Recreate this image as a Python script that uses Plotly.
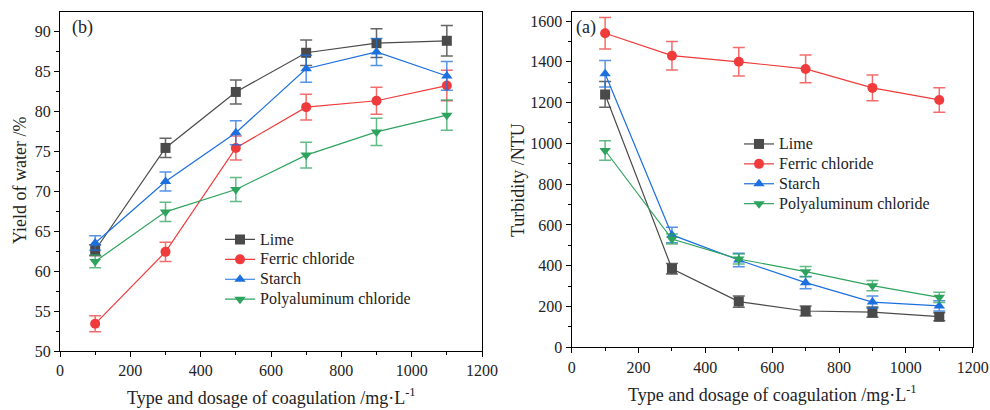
import plotly.graph_objects as go

dosage = [100, 300, 500, 700, 900, 1100]
series_names = ["Lime", "Ferric chloride", "Starch", "Polyaluminum chloride"]

# Panel (b): yield of water (%)
yield_lime = [62.6, 75.4, 82.4, 87.3, 88.5, 88.8]
yield_lime_err = [0.7, 1.2, 1.5, 1.6, 1.8, 1.9]
yield_ferric = [53.4, 62.4, 75.4, 80.5, 81.3, 83.2]
yield_ferric_err = [1.0, 1.2, 1.5, 1.6, 1.7, 1.9]
yield_starch = [63.5, 71.2, 77.3, 85.3, 87.4, 84.4]
yield_starch_err = [0.9, 1.2, 1.5, 1.7, 1.7, 1.8]
yield_pac = [61.2, 67.4, 70.2, 74.5, 77.4, 79.5]
yield_pac_err = [0.8, 1.2, 1.5, 1.6, 1.7, 1.9]

# Panel (a): turbidity (NTU)
turb_lime = [1240, 385, 224, 178, 172, 150]
turb_lime_err = [63, 26, 28, 25, 25, 20]
turb_ferric = [1540, 1430, 1400, 1365, 1272, 1213]
turb_ferric_err = [77, 70, 70, 68, 63, 60]
turb_starch = [1341, 551, 428, 317, 222, 203]
turb_starch_err = [65, 38, 33, 30, 30, 25]
turb_pac = [965, 531, 433, 371, 302, 245]
turb_pac_err = [48, 25, 25, 25, 25, 25]

colors = ["#4a4a4a", "#ef3b3b", "#1c6fdf", "#2ea35e"]
err_colors = ["rgba(74,74,74,0.85)", "rgba(239,59,59,0.75)", "rgba(28,111,223,0.75)", "rgba(46,163,94,0.75)"]
symbols = ["square", "circle", "triangle-up", "triangle-down"]

FONT = "Liberation Serif"
W, H = 990, 410


def px(x):
    return x / W


def py(y):
    return 1 - y / H


def legend_label(name):
    return '<span style="font-size:16px">' + name + "</span>"


fig = go.Figure()

left = [(yield_lime, yield_lime_err), (yield_ferric, yield_ferric_err),
        (yield_starch, yield_starch_err), (yield_pac, yield_pac_err)]
right = [(turb_lime, turb_lime_err), (turb_ferric, turb_ferric_err),
         (turb_starch, turb_starch_err), (turb_pac, turb_pac_err)]

for i, (vals, errs) in enumerate(left):
    fig.add_trace(go.Scatter(
        x=dosage, y=vals, name=legend_label(series_names[i]), mode="lines+markers",
        line=dict(color=colors[i], width=1.2),
        marker=dict(symbol=symbols[i], size=10, color=colors[i]),
        error_y=dict(type="data", array=errs, color=err_colors[i], thickness=1.5, width=6),
        xaxis="x", yaxis="y", legend="legend"))

for i, (vals, errs) in enumerate(right):
    fig.add_trace(go.Scatter(
        x=dosage, y=vals, name=legend_label(series_names[i]), mode="lines+markers",
        line=dict(color=colors[i], width=1.2),
        marker=dict(symbol=symbols[i], size=10, color=colors[i]),
        error_y=dict(type="data", array=errs, color=err_colors[i], thickness=1.5, width=6),
        xaxis="x2", yaxis="y2", legend="legend2"))

axis_common = dict(
    showline=True, linecolor="black", linewidth=1.3, mirror=True,
    ticks="outside", ticklen=5, tickwidth=1.2, tickcolor="black",
    showgrid=False, zeroline=False, automargin=False,
    ticklabeloverflow="allow",
    tickfont=dict(family=FONT, size=16, color="#222"),
)

legend_font = dict(family=FONT, size=13, color="#222")

fig.update_layout(
    width=W, height=H,
    margin=dict(l=0, r=0, t=0, b=0),
    paper_bgcolor="white", plot_bgcolor="white",
    font=dict(family=FONT, size=16, color="#222"),
    showlegend=True,
    xaxis=dict(domain=[px(60), px(482)], range=[0, 1200], dtick=200,
               minor=dict(ticks="outside", ticklen=3, dtick=100, tickcolor="black"),
               anchor="y", **axis_common),
    yaxis=dict(domain=[py(351), py(12)], range=[50, 92.4], dtick=5,
               minor=dict(ticks="outside", ticklen=3, dtick=2.5, tickcolor="black"),
               anchor="x", **axis_common),
    xaxis2=dict(domain=[px(571.7), px(972.7)], range=[0, 1200], dtick=200,
                minor=dict(ticks="outside", ticklen=3, dtick=100, tickcolor="black"),
                anchor="y2", **axis_common),
    yaxis2=dict(domain=[py(347.3), py(11.7)], range=[0, 1645.6], dtick=200,
                minor=dict(ticks="outside", ticklen=3, dtick=100, tickcolor="black"),
                anchor="x2", **axis_common),
    legend=dict(x=px(220), y=py(224.5), xanchor="left", yanchor="top",
                bgcolor="rgba(0,0,0,0)", font=legend_font,
                tracegroupgap=0, itemwidth=30),
    legend2=dict(x=px(739), y=py(129), xanchor="left", yanchor="top",
                 bgcolor="rgba(0,0,0,0)", font=legend_font,
                 tracegroupgap=0, itemwidth=30),
    annotations=[
        dict(text="(b)", x=px(70), y=py(27), xref="paper", yref="paper",
             xanchor="left", yanchor="middle", showarrow=False,
             font=dict(family=FONT, size=18, color="#222")),
        dict(text="(a)", x=px(574), y=py(27), xref="paper", yref="paper",
             xanchor="left", yanchor="middle", showarrow=False,
             font=dict(family=FONT, size=18, color="#222")),
        dict(text="Yield of water /%", x=px(20), y=py(181), xref="paper", yref="paper",
             textangle=-90, showarrow=False, xanchor="center", yanchor="middle",
             font=dict(family=FONT, size=18, color="#222")),
        dict(text="Turbidity /NTU", x=px(518), y=py(180), xref="paper", yref="paper",
             textangle=-90, showarrow=False, xanchor="center", yanchor="middle",
             font=dict(family=FONT, size=18, color="#222")),
        dict(text="Type and dosage of coagulation /mg·L<sup>-1</sup>", x=px(271), y=py(396),
             xref="paper", yref="paper", showarrow=False, xanchor="center", yanchor="middle",
             font=dict(family=FONT, size=18, color="#222")),
        dict(text="Type and dosage of coagulation /mg·L<sup>-1</sup>", x=px(772), y=py(393),
             xref="paper", yref="paper", showarrow=False, xanchor="center", yanchor="middle",
             font=dict(family=FONT, size=18, color="#222")),
    ],
)

post_js = (
    "document.body.style.margin='0';"
    "document.body.style.overflow='hidden';"
)

fig.write_html("out.html", config={"displayModeBar": False}, post_script=post_js)
